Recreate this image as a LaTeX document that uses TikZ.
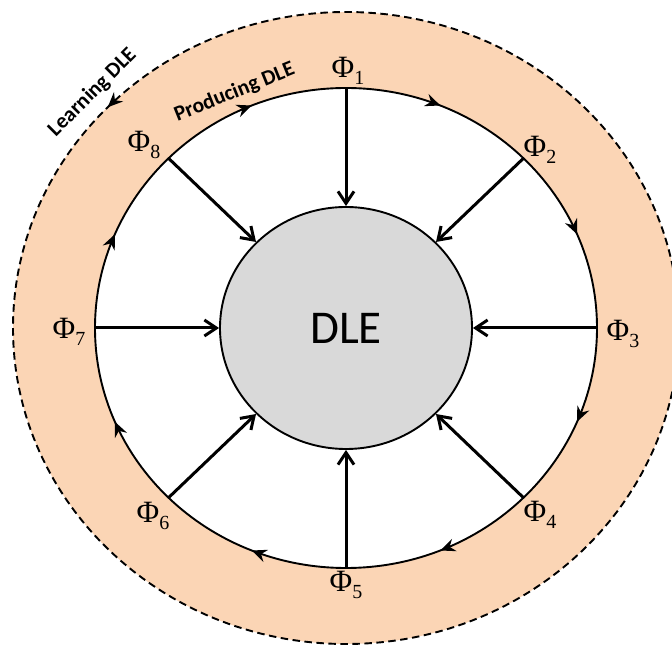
\documentclass[tikz,border=0pt]{standalone}
\usepackage{fontspec}
\newfontfamily\calibri{Carlito}
\newfontfamily\phifont{Liberation Serif}
\usetikzlibrary{arrows.meta,decorations.markings,shapes.geometric}
\definecolor{peach}{RGB}{251,213,181}
\definecolor{dlegray}{RGB}{217,217,217}
\newcommand{\phisub}[1]{Φ\raisebox{-6.5pt}{\fontsize{20}{20}\selectfont #1}}
\begin{document}
\begin{tikzpicture}[x=1pt,y=1pt,
  outerring/.style={line width=1.9pt, dash pattern=on 7.5pt off 4.5pt,
    postaction={decorate},
    decoration={markings, mark=at position 0.379 with {\arrow{Stealth[length=15pt,width=13pt,inset=5pt]}}}},
  innerring/.style={line width=1.9pt, fill=white,
    postaction={decorate},
    decoration={markings, mark=between positions 0.0625 and 1 step 0.125 with {\arrowreversed{Stealth[length=15pt,width=13pt,inset=5pt]}}}},
  dlenode/.style={ellipse, draw, line width=1.9pt, fill=dlegray, inner sep=0pt,
    minimum width=252pt, minimum height=242pt, font=\calibri\fontsize{47}{50}\selectfont},
  radial/.style={line width=3pt, -{Straight Barb[length=12pt,width=16pt]}},
  philabel/.style={inner sep=0pt, font=\phifont\fontsize{31}{33}\selectfont},
  arclabel/.style={inner sep=0pt, font=\calibri\bfseries\fontsize{21.5}{23}\selectfont}
]
\clip (0,0) rectangle (672,645);
\coordinate (C) at (346,317);
% outer (learning) ring
\fill[peach] (C) ellipse [x radius=333pt, y radius=316pt];
\draw[outerring] (C) ellipse [x radius=333pt, y radius=316pt];
% inner (producing) ring
\draw[innerring] (C) ellipse [x radius=251pt, y radius=240pt];
% central DLE
\node[dlenode] (dle) at (C) {DLE};
% points on the producing ring
\path (C) ++(90:251pt and 240pt) coordinate (p1);
\path (C) ++(45:251pt and 240pt) coordinate (p2);
\path (C) ++(0:251pt and 240pt) coordinate (p3);
\path (C) ++(-45:251pt and 240pt) coordinate (p4);
\path (C) ++(-90:251pt and 240pt) coordinate (p5);
\path (C) ++(-135:251pt and 240pt) coordinate (p6);
\path (C) ++(180:251pt and 240pt) coordinate (p7);
\path (C) ++(135:251pt and 240pt) coordinate (p8);
\foreach \k in {1,...,8} { \draw[radial] (p\k) -- (dle); }
% labels
\node[philabel] (phi1) at (348,574) {\phisub{1}};
\node[philabel] (phi2) at (540,495) {\phisub{2}};
\node[philabel] (phi3) at (623,311) {\phisub{3}};
\node[philabel] (phi4) at (540,130) {\phisub{4}};
\node[philabel] (phi5) at (346,60) {\phisub{5}};
\node[philabel] (phi6) at (153,129) {\phisub{6}};
\node[philabel] (phi7) at (69,313) {\phisub{7}};
\node[philabel] (phi8) at (144,500) {\phisub{8}};
\node[arclabel, rotate=22] (prod) at (234.5,552.5) {Producing DLE};
\node[arclabel, rotate=45] (learn) at (92.5,552.5) {Learning DLE};
\end{tikzpicture}
\end{document}
